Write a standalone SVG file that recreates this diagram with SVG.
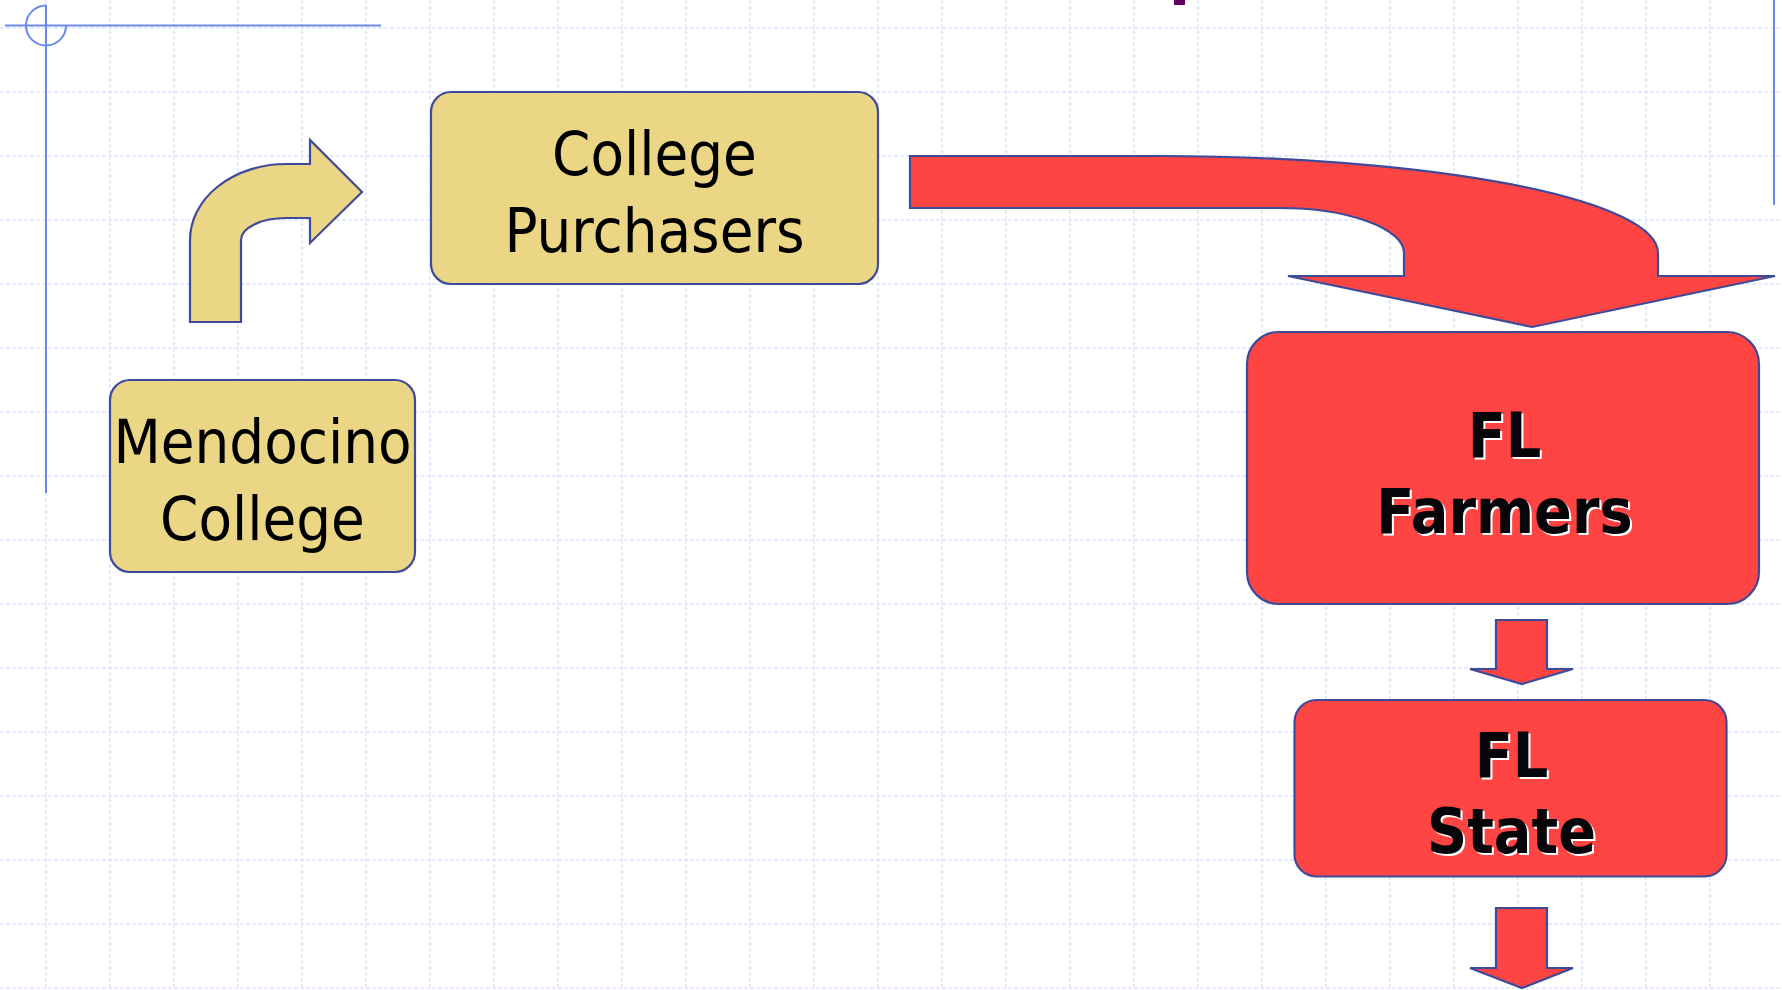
<svg xmlns="http://www.w3.org/2000/svg" width="1782" height="990" viewBox="0 0 1782 990">
<style>
.grid{stroke:#dde5fc;stroke-width:1.5;stroke-dasharray:4 2;fill:none}
.guide{stroke:#6a88f2;stroke-width:2;fill:none}
.yel{fill:#ead685;stroke:#3f4a99;stroke-width:2.2}
.red{fill:#ff4444;stroke:#3f4a99;stroke-width:2.2}
.reg{font-family:"DejaVu Sans Condensed","DejaVu Sans","Liberation Sans",sans-serif;font-stretch:condensed;font-size:61px;fill:#000;text-anchor:middle}
.bold{font-family:"DejaVu Sans Condensed","DejaVu Sans","Liberation Sans",sans-serif;font-stretch:condensed;font-weight:bold;font-size:62px;text-anchor:middle}
.sh{fill:#ffffff}
.fg{fill:#05050a}
</style>
<rect width="1782" height="990" fill="#ffffff"/>
<g id="grid">
<path class="grid" d="M46,0V990M110,0V990M174,0V990M238,0V990M302,0V990M366,0V990M430,0V990M494,0V990M558,0V990M622,0V990M686,0V990M750,0V990M814,0V990M878,0V990M942,0V990M1006,0V990M1070,0V990M1134,0V990M1198,0V990M1262,0V990M1326,0V990M1390,0V990M1454,0V990M1518,0V990M1582,0V990M1646,0V990M1710,0V990"/>
<path class="grid" d="M0,28H1782M0,92H1782M0,156H1782M0,220H1782M0,284H1782M0,348H1782M0,412H1782M0,476H1782M0,540H1782M0,604H1782M0,668H1782M0,732H1782M0,796H1782M0,860H1782M0,924H1782M0,988H1782"/>
</g>
<g id="guides">
<line class="guide" x1="5" y1="25.5" x2="381" y2="25.5"/>
<line class="guide" x1="46" y1="5" x2="46" y2="493"/>
<path class="guide" d="M46,5.5A20,20 0 1 0 66,25.5"/>
<line class="guide" x1="1774" y1="0" x2="1774" y2="205"/>
<rect x="1174" y="0" width="11" height="5" fill="#660066"/>
</g>
<g id="connectors">
<path id="bent-arrow" class="yel" d="M190,322L190,240A96,76 0 0 1 286,164L310,164L310,140L362,192L310,243L310,218L286,218A45,22 0 0 0 241,240L241,322Z"/>
<path id="curved-arrow" class="red" d="M910,156L1158,156A500,97 0 0 1 1658,253L1658,276L1775,276L1532,327L1288,276L1404,276L1404,253A125,45 0 0 0 1279,208L910,208Z"/>
<path id="down-arrow-1" class="red" d="M1496,620L1547,620L1547,669L1573,669L1522,684L1470,669L1496,669Z"/>
<path id="down-arrow-2" class="red" d="M1496,908L1547,908L1547,968L1573,968L1522,988L1470,968L1496,968Z"/>
</g>
<g id="college-purchasers">
<rect class="yel" x="431" y="92" width="447" height="192" rx="20"/>
<text class="reg" x="654.5" y="175">College</text>
<text class="reg" x="654.5" y="252">Purchasers</text>
</g>
<g id="mendocino-college">
<rect class="yel" x="110" y="380" width="305" height="192" rx="20"/>
<text class="reg" x="262.5" y="463">Mendocino</text>
<text class="reg" x="262.5" y="540">College</text>
</g>
<g id="fl-farmers">
<rect class="red" x="1247" y="332" width="512" height="272" rx="32"/>
<text class="bold sh" x="1506.5" y="459">FL</text>
<text class="bold sh" x="1506.5" y="535">Farmers</text>
<text class="bold fg" x="1504.5" y="457">FL</text>
<text class="bold fg" x="1504.5" y="533">Farmers</text>
</g>
<g id="fl-state">
<rect class="red" x="1294.5" y="700" width="432" height="176.5" rx="22"/>
<text class="bold sh" x="1513.5" y="779">FL</text>
<text class="bold sh" x="1513.5" y="855">State</text>
<text class="bold fg" x="1511.5" y="777">FL</text>
<text class="bold fg" x="1511.5" y="853">State</text>
</g>
</svg>
